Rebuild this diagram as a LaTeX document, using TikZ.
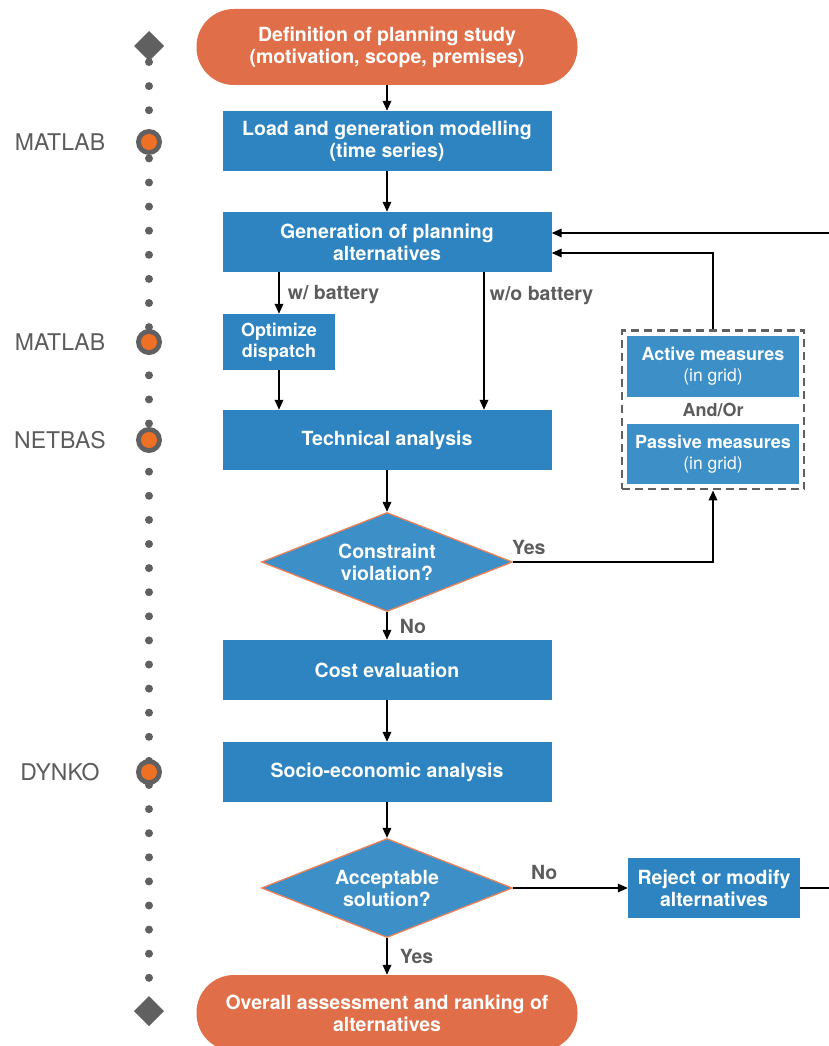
\documentclass[tikz,border=0pt]{standalone}
\usepackage{fontspec}
\setmainfont{TeX Gyre Heros}
\usepackage{xcolor}
\usetikzlibrary{arrows.meta, positioning, calc, shapes.geometric, fit}

\definecolor{boxblue}{RGB}{45,132,192}
\definecolor{lightblue}{RGB}{60,143,199}
\definecolor{termorange}{RGB}{224,111,73}
\definecolor{edgeorange}{RGB}{233,130,90}
\definecolor{dotgray}{RGB}{96,96,96}
\definecolor{markorange}{RGB}{238,112,36}
\definecolor{labelgray}{RGB}{92,92,92}

\tikzset{
  box/.style={fill=boxblue, text=white, font=\fontsize{19.5}{22}\selectfont\bfseries,
    align=center, minimum width=329pt, minimum height=60pt, inner sep=0pt},
  smallbox/.style={box, font=\fontsize{18}{21}\selectfont\bfseries},
  term/.style={box, fill=termorange, minimum width=381pt, minimum height=76pt, rounded corners=37.5pt},
  decision/.style={diamond, aspect=2.55, fill=lightblue, draw=edgeorange, line width=1.3pt,
    text=white, font=\fontsize{19.5}{22}\selectfont\bfseries, align=center,
    minimum width=251pt, minimum height=99pt, inner sep=0pt},
  lbl/.style={text=labelgray, font=\fontsize{19.5}{22}\selectfont\bfseries, inner sep=2pt},
  tool/.style={text=labelgray, font=\fontsize{23}{27}\selectfont},
  flow/.style={line width=1.8pt, -{Triangle[length=10pt,width=8.5pt]}},
}

\begin{document}
\begin{tikzpicture}[x=1pt, y=-1pt]
  \useasboundingbox (0,0) rectangle (828,1046);

  % Zeitachse
  \foreach \k in {0,...,39} {
      \fill[dotgray] (149,{62+24.1*\k}) circle (4pt);
  }
  \fill[dotgray] (149,31) -- (164,46) -- (149,61) -- (134,46) -- cycle;
  \fill[dotgray] (149,996) -- (164,1011) -- (149,1026) -- (134,1011) -- cycle;
  \foreach \y/\name in {142/MATLAB, 342/MATLAB, 440/NETBAS, 772/DYNKO} {
      \fill[dotgray] (149,\y) circle (13pt);
      \fill[markorange] (149,\y) circle (8pt);
      \node[tool] (tool\y) at (60,\y) {\name};
  }

  % Ablauf
  \node[term] (define) at (387,47) {Definition of planning study\\(motivation, scope, premises)};
  \node[box] (load) at (387,141) {Load and generation modelling\\(time series)};
  \node[box] (gen) at (387,242) {Generation of planning\\alternatives};
  \node[smallbox, minimum width=112pt, minimum height=56pt] (opt) at (279,342) {Optimize\\dispatch};
  \node[box] (tech) at (387,440) {Technical analysis};
  \node[decision] (viol) at (387,562) {Constraint\\violation?};
  \node[box] (cost) at (387,670) {Cost evaluation};
  \node[box] (socio) at (387,772) {Socio-economic analysis};
  \node[decision] (accept) at (387,888) {Acceptable\\solution?};
  \node[term] (overall) at (387,1013) {Overall assessment and ranking of\\alternatives};
  \node[box, minimum width=172pt] (reject) at (714,888) {Reject or modify\\alternatives};

  % Massnahmen
  \node[smallbox, fill=lightblue, minimum width=172pt, minimum height=61pt] (active) at (713,366)
      {Active measures\\{\fontsize{17.5}{21}\selectfont\mdseries (in grid)}};
  \node[smallbox, fill=lightblue, minimum width=172pt, minimum height=60pt] (passive) at (713,454)
      {Passive measures\\{\fontsize{17.5}{21}\selectfont\mdseries (in grid)}};
  \node[lbl, font=\fontsize{18}{21}\selectfont\bfseries] (andor) at ($(active)!0.5!(passive)$) {And/Or};
  \node[draw=dotgray, line width=2.5pt, dash pattern=on 8pt off 5pt, fit=(active)(passive), inner sep=5pt] (measures) {};

  % Pfeile
  \draw[flow] (define) -- (load);
  \draw[flow] (load) -- (gen);
  \draw[flow] (opt |- gen.south) -- node[lbl, right=6pt, yshift=-2pt] {w/ battery} (opt);
  \draw[flow] (opt) -- (opt |- tech.north);
  \draw[flow] ([xshift=97pt]gen.south) -- node[lbl, pos=0.17, right=3pt] {w/o battery} ([xshift=97pt]tech.north);
  \draw[flow] (tech) -- (viol);
  \draw[flow] (viol) -- node[lbl, right=10pt] {No} (cost);
  \draw[flow] (viol.east) -| node[lbl, pos=0, anchor=south west, xshift=-4pt, yshift=4pt] {Yes} (measures.south);
  \draw[flow] (measures.north) |- ([yshift=-11pt]gen.east);
  \draw[flow] (cost) -- (socio);
  \draw[flow] (socio) -- (accept);
  \draw[flow] (accept) -- node[lbl, right=10pt] {Yes} (overall);
  \draw[flow] (accept.east) -- node[lbl, pos=0.27, above=5pt] {No} (reject.west);
  \draw[flow] (reject.east) -- ++(31,0) |- ([yshift=9pt]gen.east);
\end{tikzpicture}
\end{document}
